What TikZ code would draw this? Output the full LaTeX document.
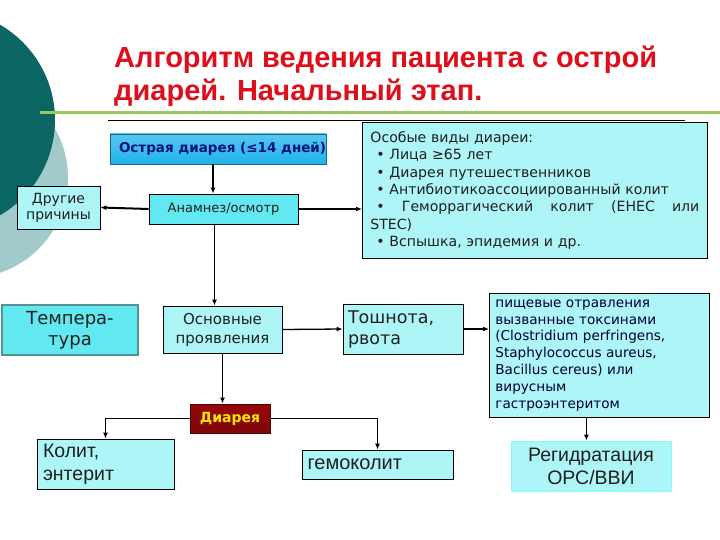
\documentclass[tikz,border=0pt]{standalone}
\usepackage{fontspec}
\setmainfont{DejaVu Sans}
\newfontfamily\narrowf{Liberation Sans}
\usetikzlibrary{arrows.meta,positioning,calc}
\definecolor{vteal}{HTML}{0B6563}
\definecolor{vpale}{HTML}{A2CACB}
\definecolor{vgreen}{HTML}{9CC65E}
\definecolor{vred}{HTML}{DE0F1B}
\definecolor{vlight}{HTML}{AEF5F8}
\definecolor{vmid}{HTML}{62E8F0}
\definecolor{vblue}{HTML}{1FB3EA}
\definecolor{vmaroon}{HTML}{7E0707}
\definecolor{vtext}{HTML}{202020}
\tikzset{
  box/.style={draw=black,fill=vlight,line width=0.8pt,inner sep=3pt,align=center,text=vtext},
  midbox/.style={box,fill=vmid},
  arr/.style={-{Latex[length=6pt,width=5pt]},line width=1.3pt,draw=black},
  ttl/.style={font=\narrowf\bfseries\fontsize{29}{33}\selectfont,text=vred,align=left,inner sep=0pt},
}
\newcommand{\bul}{\hspace*{6pt}\textbullet\ }
\begin{document}
\begin{tikzpicture}[x=1pt,y=-1pt]
\useasboundingbox (0,0) rectangle (720,540);
\fill[white] (0,0) rectangle (720,540);
\begin{scope}
\clip (0,0) rectangle (720,540);
\fill[vpale] (-32,178) circle (100pt);
\fill[vteal] (-55,120) circle (110pt);
\end{scope}
\draw[vgreen,line width=3pt] (40,113) -- (720,113);
\draw[black,line width=0.8pt] (108,120) -- (685,120);
\node[ttl,anchor=north west] (head) at (114,46) {Алгоритм ведения пациента с острой\\диарей. Начальный этап.};

% upper part
\node[box,draw=vblue!60!black,top color=vblue!75,bottom color=vblue,minimum width=216pt,minimum height=30pt,inner xsep=0pt,font=\bfseries\fontsize{13.5}{15}\selectfont,text=vteal!30!blue!60!black] (acute) at (218,149) {\makebox[200pt][l]{\hspace*{1pt}Острая диарея (≤14 дней)}};
\node[box,minimum width=83pt,minimum height=43pt,font=\fontsize{14}{16}\selectfont] (other) at (58.5,207.5) {Другие\\причины};
\node[midbox,minimum width=149pt,minimum height=30pt,font=\fontsize{13}{15}\selectfont] (hist) at (223.5,209) {Анамнез/осмотр};
\node[box,anchor=north west,align=left,text width=329pt,inner xsep=8pt,inner ysep=6pt,minimum height=136pt,font=\fontsize{14.1}{17.3}\selectfont] (special) at (362,122) {Особые виды диареи:\\
\bul Лица ≥65 лет\\
\bul Диарея путешественников\\
\bul Антибиотикоассоциированный колит\\
\makebox[\linewidth][s]{\hspace*{6pt}\textbullet\hfill Геморрагический\hfill колит\hfill (EHEC\hfill или}\\
STEC)\\
\bul Вспышка, эпидемия и др.};

% middle row
\node[midbox,draw=vteal!70,line width=1.2pt,minimum width=136pt,minimum height=50pt,font=\fontsize{18}{21}\selectfont] (temp) at (70,330) {Темпера-\\тура};
\node[box,minimum width=119pt,minimum height=47pt,font=\fontsize{15}{19}\selectfont] (main) at (222.5,329.5) {Основные\\проявления};
\node[box,align=left,minimum width=120pt,minimum height=50pt,text width=110pt,font=\fontsize{17.5}{21}\selectfont] (nausea) at (403,329) {Тошнота,\\рвота};
\node[box,anchor=north west,align=left,text width=208pt,inner xsep=6pt,inner ysep=4pt,minimum height=124pt,font=\fontsize{13.6}{16.8}\selectfont,text=blue!20!black] (food) at (489,293) {пищевые отравления\\
вызванные токсинами\\
(Clostridium perfringens,\\
Staphylococcus aureus,\\
Bacillus cereus) или\\
вирусным\\
гастроэнтеритом};

% lower part
\node[box,draw=vmaroon!60!black,top color=vmaroon!80!red,bottom color=vmaroon,minimum width=80pt,minimum height=29pt,font=\bfseries\fontsize{14}{15}\selectfont,text=yellow!90!orange] (diarrhea) at (230,418.5) {Диарея};
\node[box,align=left,minimum width=137pt,minimum height=50pt,text width=125pt,font=\narrowf\fontsize{19.5}{23}\selectfont] (colitis) at (105.5,464) {Колит,\\энтерит};
\node[box,align=left,minimum width=151pt,minimum height=29pt,text width=140pt,font=\narrowf\fontsize{20}{21}\selectfont] (hemo) at (377.5,464.5) {гемоколит};
\node[box,draw=vlight!80!cyan,minimum width=160pt,minimum height=50pt,font=\narrowf\fontsize{19.5}{23}\selectfont] (rehyd) at (591,466) {Регидратация\\ОРС/ВВИ};

% connectors
\draw[arr] ([xshift=-5pt]acute.south) -- ([xshift=-5pt]acute.south |- hist.north);
\draw[arr,line width=2pt] (hist.west) -- (other.east);
\draw[arr] (hist.east) -- (hist.east -| special.west);
\draw[arr] ([xshift=-9pt]hist.south) -- ([xshift=-9pt]hist.south |- main.north);
\draw[arr] (main.east) -- (nausea.west);
\draw[arr] (main.south) -- (main.south |- diarrhea.north);
\draw[arr] (nausea.east) -- (nausea.east -| food.west);
\draw[arr] (diarrhea.west) -| (colitis.north);
\draw[arr] (diarrhea.east) -| (hemo.north);
\draw[arr] ([xshift=-13pt]food.south) -- ([xshift=-13pt]food.south |- rehyd.north);
\end{tikzpicture}
\end{document}
